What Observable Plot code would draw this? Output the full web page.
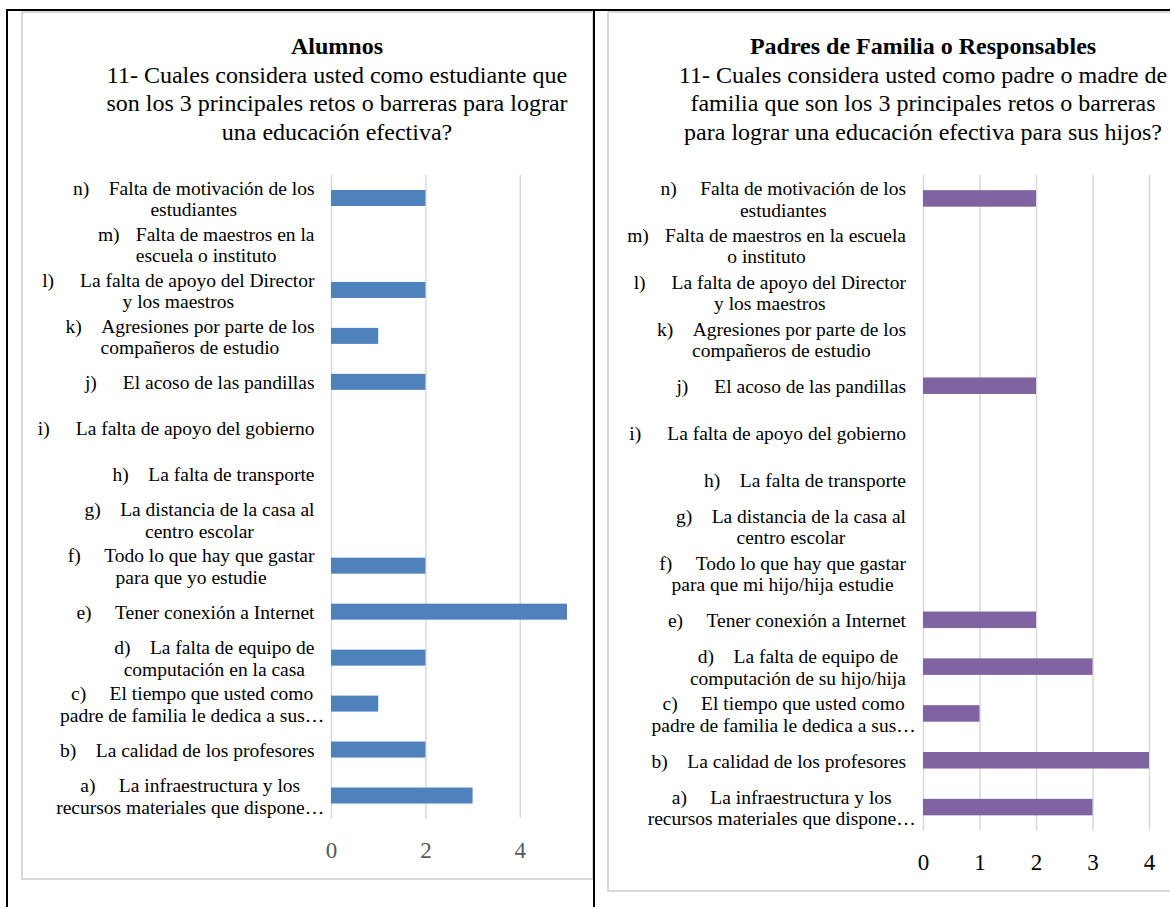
<!DOCTYPE html>
<html>
<head>
<meta charset="utf-8">
<script src="https://cdn.jsdelivr.net/npm/d3@7"></script>
<script src="https://cdn.jsdelivr.net/npm/@observablehq/plot@0.6"></script>
<style>
  html, body { margin: 0; padding: 0; background: #fff; }
  body { width: 1170px; height: 907px; position: relative; overflow: hidden; }
  .panel { position: absolute; box-sizing: border-box; border: 2px solid #d9d9d9; background: #fff; }
  .wrap { position: absolute; overflow: hidden; }
  .wrap svg { position: absolute; left: 0; max-width: none !important; }
  .title { position: absolute; width: 600px; text-align: center; font-family: "Liberation Serif", "Times New Roman", serif;
           font-size: 24px; line-height: 28.5px; color: #000; white-space: nowrap; }
  .title b { font-weight: bold; }
  .rule { position: absolute; background: #000; }
</style>
</head>
<body>
<div class="panel" style="left:21px;top:11px;width:573px;height:869px;"></div>
<div class="panel" style="left:607px;top:11px;width:600px;height:881px;"></div>

<div class="title" style="left:37px;top:32px;">
  <b>Alumnos</b><br>11- Cuales considera usted como estudiante que<br>son los 3 principales retos o barreras para lograr<br>una educación efectiva?
</div>
<div class="title" style="left:623px;top:32px;">
  <b>Padres de Familia o Responsables</b><br>11- Cuales considera usted como padre o madre de<br>familia que son los 3 principales retos o barreras<br>para lograr una educación efectiva para sus hijos?
</div>

<div id="left" class="wrap" style="left:23px;top:13px;width:569px;height:865px;"></div>
<div id="right" class="wrap" style="left:609px;top:13px;width:561px;height:877px;"></div>

<div class="rule" style="left:6px;top:9px;width:1164px;height:2px;"></div>
<div class="rule" style="left:6px;top:9px;width:2px;height:898px;"></div>
<div class="rule" style="left:593px;top:9px;width:1.5px;height:898px;"></div>

<script>
// ---- data ----
const categories = ["n","m","l","k","j","i","h","g","f","e","d","c","b","a"];

const alumnosLabels = [
  "n)\u2003Falta de motivación de los\nestudiantes",
  "m)\u2002\u2004Falta de maestros en la\nescuela o instituto",
  "l)\u2003\u2004La falta de apoyo del Director\ny los maestros",
  "k)\u2003Agresiones por parte de los\ncompañeros de estudio",
  "j)\u2003\u2004El acoso de las pandillas",
  "i)\u2003\u2004La falta de apoyo del gobierno",
  "h)\u2003La falta de transporte",
  "g)\u2003La distancia de la casa al\ncentro escolar",
  "f)\u2003\u2009Todo lo que hay que gastar\npara que yo estudie",
  "e)\u2003\u2009Tener conexión a Internet",
  "d)\u2003La falta de equipo de\ncomputación en la casa",
  "c)\u2003\u2009El tiempo que usted como\npadre de familia le dedica a sus…",
  "b)\u2003La calidad de los profesores",
  "a)\u2003\u2009La infraestructura y los\nrecursos materiales que dispone…"
];
const alumnosValues = [2, 0, 2, 1, 2, 0, 0, 0, 2, 5, 2, 1, 2, 3];
const alumnosTicks = [0, 2, 4];
const alumnosGrid = [0, 2, 4, 6];

const padresLabels = [
  "n)\u2003\u2009Falta de motivación de los\nestudiantes",
  "m)\u2002\u2004Falta de maestros en la escuela\no instituto",
  "l)\u2003\u2004La falta de apoyo del Director\ny los maestros",
  "k)\u2003Agresiones por parte de los\ncompañeros de estudio",
  "j)\u2003\u2004El acoso de las pandillas",
  "i)\u2003\u2004La falta de apoyo del gobierno",
  "h)\u2003La falta de transporte",
  "g)\u2003La distancia de la casa al\ncentro escolar",
  "f)\u2003\u2009Todo lo que hay que gastar\npara que mi hijo/hija estudie",
  "e)\u2003\u2009Tener conexión a Internet",
  "d)\u2003La falta de equipo de\ncomputación de su hijo/hija",
  "c)\u2003\u2009El tiempo que usted como\npadre de familia le dedica a sus…",
  "b)\u2003La calidad de los profesores",
  "a)\u2003\u2009La infraestructura y los\nrecursos materiales que dispone…"
];
const padresValues = [2, 0, 0, 0, 2, 0, 0, 0, 0, 2, 3, 1, 4, 3];
const padresTicks = [0, 1, 2, 3, 4];
const padresGrid = [0, 1, 2, 3, 4, 5];

// ---- drawing ----
const LABEL_FONT = "Liberation Serif";
const LABEL_SIZE = 19.5;
const ctx = document.createElement("canvas").getContext("2d");
ctx.font = `${LABEL_SIZE}px "${LABEL_FONT}"`;

function chart(o) {
  const data = categories.map((c, i) => ({cat: c, label: o.labels[i], value: o.values[i]}));
  const labelMarks = data.map(d => {
    const lines = d.label.split("\n");
    const w = Math.max(...lines.map(l => ctx.measureText(l.replace(/…$/, "")).width));
    return Plot.text([d], {
      x: () => o.ticks[0], y: "cat", text: "label",
      textAnchor: "middle", lineAnchor: "middle", lineHeight: 1.108,
      dx: -(o.gap + w / 2), fontSize: LABEL_SIZE, fontFamily: LABEL_FONT, fill: "#000"
    });
  });
  const xMax = o.grid[o.grid.length - 1];
  return Plot.plot({
    width: o.width, height: o.height,
    marginLeft: o.marginLeft, marginRight: 0, marginTop: o.marginTop, marginBottom: o.marginBottom,
    style: {fontFamily: LABEL_FONT, fontSize: LABEL_SIZE + "px", color: "#000", background: "transparent", overflow: "visible", maxWidth: "none"},
    x: {domain: [0, xMax], range: [o.marginLeft, o.marginLeft + xMax * o.unit]},
    y: {domain: categories, paddingInner: o.pad, paddingOuter: o.pad / 2, round: false, axis: null},
    marks: [
      Plot.gridX(o.grid, {stroke: "#d9d9d9", strokeOpacity: 1, strokeWidth: 1.5}),
      Plot.barX(data.filter(d => d.value > 0), {x: "value", y: "cat", fill: o.color}),
      Plot.axisX(o.ticks, {tickSize: 0, tickPadding: o.tickPadding, fontSize: 23, fontFamily: LABEL_FONT, color: o.tickColor, label: null}),
      ...labelMarks
    ]
  });
}

const left = chart({
  labels: alumnosLabels, values: alumnosValues, ticks: alumnosTicks, grid: alumnosGrid,
  color: "#4F81BD", tickColor: "#595959",
  width: 600, height: 709, marginLeft: 308, marginTop: 15, marginBottom: 50.5,
  unit: 47.2, pad: 0.652, gap: 17, tickPadding: 22.5
});
left.style.top = "147px";
document.getElementById("left").appendChild(left);

const right = chart({
  labels: padresLabels, values: padresValues, ticks: padresTicks, grid: padresGrid,
  color: "#8064A2", tickColor: "#000",
  width: 600, height: 720, marginLeft: 314, marginTop: 15, marginBottom: 49.5,
  unit: 56.5, pad: 0.647, gap: 17.5, tickPadding: 22.6
});
right.style.top = "147px";
document.getElementById("right").appendChild(right);
</script>
</body>
</html>
